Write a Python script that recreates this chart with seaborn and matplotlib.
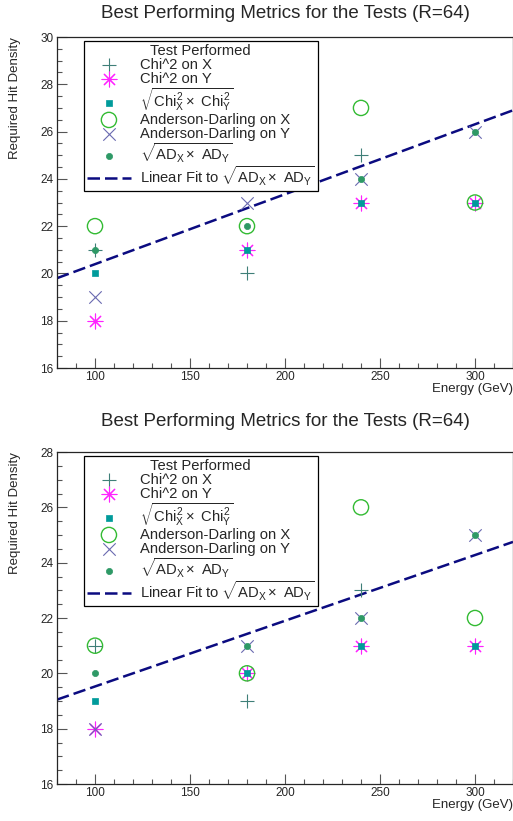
import numpy as np
import pandas as pd
import seaborn as sns
import matplotlib.pyplot as plt

# energies at which the tests were run (GeV)
energy = [100, 180, 240, 300]

# top panel: required hit density per metric
top_chi2_x = [21, 20, 25, np.nan]
top_chi2_y = [18, 21, 23, 23]
top_chi2_xy = [20, 21, 23, 23]
top_ad_x = [22, 22, 27, 23]
top_ad_y = [19, 23, 24, 26]
top_ad_xy = [21, 22, 24, 26]
top_fit = [19.8, 26.9]

# bottom panel
bot_chi2_x = [21, 19, 23, np.nan]
bot_chi2_y = [18, 20, 21, 21]
bot_chi2_xy = [19, 20, 21, 21]
bot_ad_x = [21, 20, 26, 22]
bot_ad_y = [18, 21, 22, 25]
bot_ad_xy = [20, 21, 22, 25]
bot_fit = [19.05, 24.75]

fit_energy = [80, 320]

labels = ["Chi^2 on X", "Chi^2 on Y", r"$\sqrt{Chi_X^2\times\ Chi_Y^2}$",
          "Anderson-Darling on X", "Anderson-Darling on Y",
          r"$\sqrt{AD_X\times\ AD_Y}$"]
fit_label = r"Linear Fit to $\sqrt{AD_X\times\ AD_Y}$"

sns.set_style("ticks")
plt.rcParams['font.family'] = ['Liberation Sans', 'DejaVu Sans']
plt.rcParams['mathtext.fontset'] = 'custom'
plt.rcParams['mathtext.rm'] = 'Liberation Sans'
plt.rcParams['mathtext.it'] = 'Liberation Sans'

styles = [
    dict(marker='+', s=105, color='#3f7f78', linewidth=0.8),
    dict(marker=(8, 2, 0), s=115, color='#ff22ff', linewidth=0.8),
    dict(marker='s', s=24, color='#009b9b', edgecolor='#009b9b', linewidth=0.5),
    dict(marker='o', s=120, facecolor='none', edgecolor='#33bb33', linewidth=1.0),
    dict(marker='x', s=80, color='#6a6ab0', linewidth=0.8),
    dict(marker='o', s=20, color='#2e9966', edgecolor='#2e9966', linewidth=0.5),
]


def draw_panel(ax, series, fit, ylim):
    handles = []
    for vals, lab, st in zip(series, labels, styles):
        df = pd.DataFrame({"energy": energy, "density": vals}).dropna()
        sns.scatterplot(data=df, x="energy", y="density", ax=ax, label=lab,
                        legend=False, zorder=3, **st)
        handles.append(ax.collections[-1])
    fit_df = pd.DataFrame({"energy": fit_energy, "density": fit})
    sns.lineplot(data=fit_df, x="energy", y="density", ax=ax, color='#0b0b80',
                 lw=1.8, dashes=False, label=fit_label, legend=False, zorder=2)
    line = ax.lines[-1]
    line.set_dashes((5, 2))
    handles.append(line)

    ax.set_xlim(80, 320)
    ax.set_ylim(*ylim)
    ax.set_xticks(np.arange(100, 301, 50))
    ax.set_xticks(np.arange(80, 321, 10), minor=True)
    ax.set_yticks(np.arange(ylim[0], ylim[1] + 0.1, 2))
    ax.set_yticks(np.arange(ylim[0], ylim[1] + 0.1, 0.5), minor=True)
    ax.tick_params(which='both', direction='in', top=False, right=False,
                   labelsize=8.5, pad=2.5, width=0.8, color='#555555')
    ax.tick_params(which='major', length=7)
    ax.tick_params(which='minor', length=3.5)
    for sp in ax.spines.values():
        sp.set_linewidth(0.9)

    ax.set_xlabel("Energy (GeV)", fontsize=9.5, loc='right')
    ax.xaxis.set_label_coords(1.0, -0.046)
    ax.set_ylabel("Required Hit Density", fontsize=9.5, loc='top')
    ax.yaxis.set_label_coords(-0.078, 1.0)

    leg = ax.legend(handles=handles, labels=labels + [fit_label],
                    title="Test Performed", loc='upper left',
                    bbox_to_anchor=(0.059, 0.988), borderaxespad=0,
                    fontsize=10.6, title_fontsize=10.6, fancybox=False,
                    edgecolor='black', framealpha=1, labelspacing=0.0,
                    handlelength=3.0, handletextpad=0.6, borderpad=0.2)
    leg.get_frame().set_linewidth(0.9)


fig = plt.figure(figsize=(5.13, 8.21), dpi=100)
ax1 = fig.add_axes([57 / 513, 1 - 368 / 821, 456 / 513, 331 / 821])
ax2 = fig.add_axes([57 / 513, 1 - 784 / 821, 456 / 513, 332 / 821])

draw_panel(ax1, [top_chi2_x, top_chi2_y, top_chi2_xy, top_ad_x, top_ad_y, top_ad_xy],
           top_fit, (16, 30))
draw_panel(ax2, [bot_chi2_x, bot_chi2_y, bot_chi2_xy, bot_ad_x, bot_ad_y, bot_ad_xy],
           bot_fit, (16, 28))

title = "Best Performing Metrics for the Tests (R=64)"
fig.text(285 / 513, 1 - 13 / 821, title, ha='center', va='center', fontsize=13.5)
fig.text(285 / 513, 1 - 421 / 821, title, ha='center', va='center', fontsize=13.5)

fig.savefig("out.png", dpi=100)
